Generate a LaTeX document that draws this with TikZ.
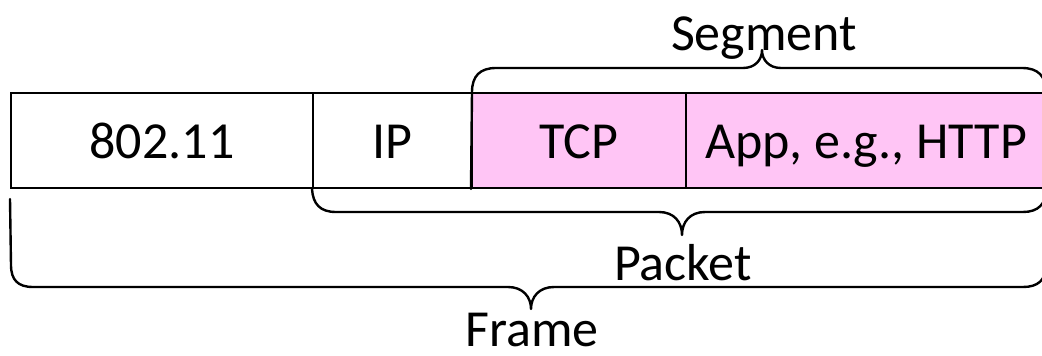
\documentclass[tikz,border=0pt]{standalone}
\usepackage{fontspec}
\setmainfont{Carlito}
\usetikzlibrary{calc}
\definecolor{segpink}{RGB}{255,197,245}
\newcommand{\cellfont}{\fontsize{52}{56}\selectfont}
\newcommand{\lblfont}{\fontsize{52}{56}\selectfont}
\tikzset{
  cell/.style={draw, line width=2pt, inner sep=0pt, minimum height=95pt,
    text height=35pt, text depth=0pt, font=\cellfont},
  pinkcell/.style={cell, fill=segpink},
  brace/.style={line width=2.4pt, line join=round, line cap=round},
  lbl/.style={inner sep=0pt, anchor=base, font=\lblfont}
}
\begin{document}
\begin{tikzpicture}[x=1pt,y=-1pt]
\useasboundingbox (0,0) rectangle (1042,356);
% header cells
\node[cell, minimum width=302pt] (wifi) at (162,140.5) {802.11};
\node[cell, minimum width=159pt] (ip) at (392.5,140.5) {IP};
\node[pinkcell, minimum width=214pt] (tcp) at (579,140.5) {TCP};
\node[pinkcell, minimum width=360pt] (app) at (866,140.5) {App, e.g., HTTP};
% brace tips
\coordinate (segtip) at (762,50);
\coordinate (pkttip) at (682,235);
\coordinate (frmtip) at (531,309);
% segment brace (above TCP + App)
\draw[brace] (tcp.south west) -- (472,92)
  .. controls (472,76) and (480,68) .. (496,68) -- (743,68)
  .. controls (755,68) and (762,60) .. (segtip)
  .. controls (762,60) and (769,68) .. (781,68) -- (1022,68)
  .. controls (1038,68) and (1046,76) .. (1046,92) -- (app.south east);
% packet brace (below IP .. App)
\draw[brace] (ip.south west)
  .. controls (313,204) and (320,212) .. (336,212) -- (659,212)
  .. controls (674,212) and (682,222) .. (pkttip)
  .. controls (682,222) and (690,212) .. (705,212) -- (1023,212)
  .. controls (1038,212) and (1046,204) .. (1046,190);
% frame brace (below everything)
\draw[brace] ($(wifi.south west)+(0,10)$) -- (11,265)
  .. controls (11,280) and (18,287) .. (33,287) -- (508,287)
  .. controls (523,287) and (531,297) .. (frmtip)
  .. controls (531,297) and (539,287) .. (554,287) -- (1023,287)
  .. controls (1038,287) and (1046,280) .. (1046,265);
% labels
\node[lbl] (seglbl) at (764,50) {Segment};
\node[lbl] (pktlbl) at (683,280) {Packet};
\node[lbl] (frmlbl) at (532,346) {Frame};
\end{tikzpicture}
\end{document}
